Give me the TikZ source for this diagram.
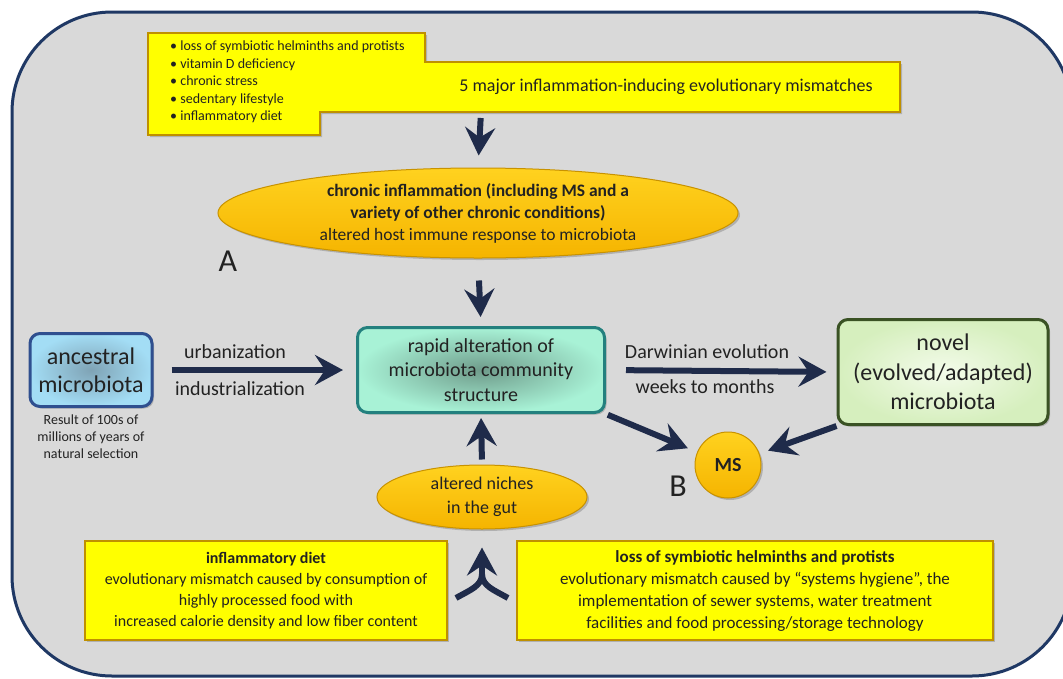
\documentclass[tikz,border=0pt]{standalone}
\usepackage{fontspec}
\setmainfont{Carlito}
\usetikzlibrary{arrows.meta,shapes.geometric,shadows,positioning}

\definecolor{navy}{HTML}{1F2B4A}
\definecolor{frameblue}{HTML}{1F3864}
\definecolor{panelgray}{HTML}{D9D9D9}
\definecolor{boxyellow}{HTML}{FFFF00}
\definecolor{yellowedge}{HTML}{BF9000}
\definecolor{goldtop}{HTML}{FFD21F}
\definecolor{goldbot}{HTML}{F5B400}
\definecolor{goldedge}{HTML}{C89200}
\definecolor{inktext}{HTML}{222222}
\definecolor{skyout}{HTML}{A3DDF5}
\definecolor{skyin}{HTML}{7FA3B5}
\definecolor{skyedge}{HTML}{2F4F8F}
\definecolor{aquaout}{HTML}{A8F2D6}
\definecolor{aquain}{HTML}{6F9C8B}
\definecolor{aquaedge}{HTML}{23807E}
\definecolor{leafout}{HTML}{D6EFBE}
\definecolor{leafin}{HTML}{F3FBEA}
\definecolor{leafedge}{HTML}{3A5224}

\tikzset{
  softshadow/.style={drop shadow={shadow xshift=2pt,shadow yshift=-2pt,opacity=0.35,fill=black!60}},
  bigarrow/.style={line width=6pt,draw=navy,-{Stealth[length=28pt,width=30pt,inset=10pt]}},
  navyline/.style={line width=6pt,draw=navy},
  yellowbox/.style={draw=yellowedge,line width=1.5pt,fill=boxyellow,softshadow,
    inner sep=0pt,align=center,text=inktext},
  goldshape/.style={ellipse,draw=goldedge,line width=1pt,top color=goldtop,bottom color=goldbot,
    softshadow,inner sep=0pt,align=center,text=inktext},
  microbox/.style={rounded corners=10pt,line width=3pt,softshadow,inner sep=0pt,
    align=center,text=inktext},
  plain/.style={text=inktext,inner sep=0pt,align=center}
}

\begin{document}
\begin{tikzpicture}[x=1pt,y=-1pt]
  \useasboundingbox (0,0) rectangle (1063,678);
  \fill[white] (0,0) rectangle (1063,678);
  \begin{scope}
    \clip (0,0) rectangle (1063,678);
    \draw[line width=3pt,draw=frameblue,fill=panelgray,rounded corners=100pt] (12,12) rectangle (1072,676);
  \end{scope}

  % top: mismatches
  \draw[yellowedge,line width=1.5pt,fill=boxyellow,softshadow]
    (148,33) -- (425,33) -- (425,62) -- (900,62) -- (900,112) -- (320,112) -- (320,135) -- (148,135) -- cycle;
  \node[plain,anchor=north west,align=left,font=\fontsize{14}{17.5}\selectfont] (bullets) at (170,41)
    {• loss of symbiotic helminths and protists\\
     • vitamin D deficiency\\
     • chronic stress\\
     • sedentary lifestyle\\
     • inflammatory diet};
  \node[plain,font=\fontsize{18}{22}\selectfont] (mism) at (666,87) {5 major inflammation-inducing evolutionary mismatches};
  \coordinate (mismbot) at (481,112);

  % chronic inflammation
  \node[goldshape,minimum width=520,minimum height=90,font=\fontsize{17.5}{22}\selectfont] (chronic) at (478,213)
    {\textbf{chronic inflammation (including MS and a}\\
     \textbf{variety of other chronic conditions)}\\
     altered host immune response to microbiota};
  \node[plain,font=\fontsize{32}{32}\selectfont] (labA) at (228,261) {A};

  % middle row
  \node[microbox,draw=skyedge,inner color=skyin,outer color=skyout,
    minimum width=122,minimum height=73,font=\fontsize{24}{28}\selectfont] (ancestral) at (91,370)
    {ancestral\\microbiota};
  \node[plain,below=7pt of ancestral,font=\fontsize{14}{17}\selectfont] (result)
    {Result of 100s of\\millions of years of\\natural selection};
  \node[microbox,draw=aquaedge,inner color=aquain,outer color=aquaout,
    minimum width=247,minimum height=85,font=\fontsize{20}{24.5}\selectfont] (rapid) at (481,370)
    {rapid alteration of\\microbiota community\\structure};
  \node[microbox,draw=leafedge,inner color=leafin,outer color=leafout,
    minimum width=210,minimum height=105,font=\fontsize{24}{29.5}\selectfont] (novel) at (943,372)
    {novel\\(evolved/adapted)\\microbiota};

  \node[plain,font=\fontsize{20}{24}\selectfont] (urban) at (235,352) {urbanization};
  \node[plain,font=\fontsize{20}{24}\selectfont] (indust) at (240,389) {industrialization};
  \node[plain,font=\fontsize{20}{24}\selectfont] (darwin) at (707,352) {Darwinian evolution};
  \node[plain,font=\fontsize{20}{24}\selectfont] (weeks) at (705,387) {weeks to months};

  % MS
  \node[goldshape,circle,minimum size=66,font=\fontsize{20}{24}\selectfont\bfseries] (ms) at (728,465) {MS};
  \node[plain,font=\fontsize{32}{32}\selectfont] (labB) at (678,486) {B};

  % bottom
  \node[goldshape,minimum width=210,minimum height=64,font=\fontsize{18}{24}\selectfont] (niches) at (482,497)
    {altered niches\\in the gut};
  \node[yellowbox,minimum width=362,minimum height=99,font=\fontsize{16}{21}\selectfont] (diet) at (266,590.5)
    {\textbf{inflammatory diet}\\
     evolutionary mismatch caused by consumption of\\
     highly processed food with\\
     increased calorie density and low fiber content};
  \node[yellowbox,minimum width=476,minimum height=99,font=\fontsize{17}{22}\selectfont] (helminth) at (755,590.5)
    {\textbf{loss of symbiotic helminths and protists}\\
     evolutionary mismatch caused by “systems hygiene”, the\\
     implementation of sewer systems, water treatment\\
     facilities and food processing/storage technology};

  % arrows
  \draw[bigarrow,shorten <=6pt,shorten >=12pt] (mismbot) -- (chronic.north);
  \draw[bigarrow,shorten <=22pt,shorten >=9pt] (chronic.south) -- (rapid.north);
  \draw[bigarrow,shorten <=18pt,shorten >=13pt] (ancestral.east) -- (rapid.west);
  \draw[bigarrow,shorten <=20pt,shorten >=10pt] (rapid.east) -- (novel.west);
  \draw[bigarrow,shorten <=5pt,shorten >=4pt] (niches.north) -- (rapid.south);
  \draw[bigarrow,shorten <=2pt,shorten >=10pt] (rapid.south east) -- (ms);
  \draw[bigarrow,shorten >=9pt] (novel.south west) -- (ms);

  \coordinate (fork) at (482,574);
  \coordinate (forkL) at (456,598);
  \coordinate (forkR) at (508,598);
  \draw[bigarrow,shorten >=18pt] (fork) -- (niches.south);
  \draw[navyline] (forkL) .. controls (470,590) and (482,586) .. (fork);
  \draw[navyline] (forkR) .. controls (494,590) and (482,586) .. (fork);
\end{tikzpicture}
\end{document}
